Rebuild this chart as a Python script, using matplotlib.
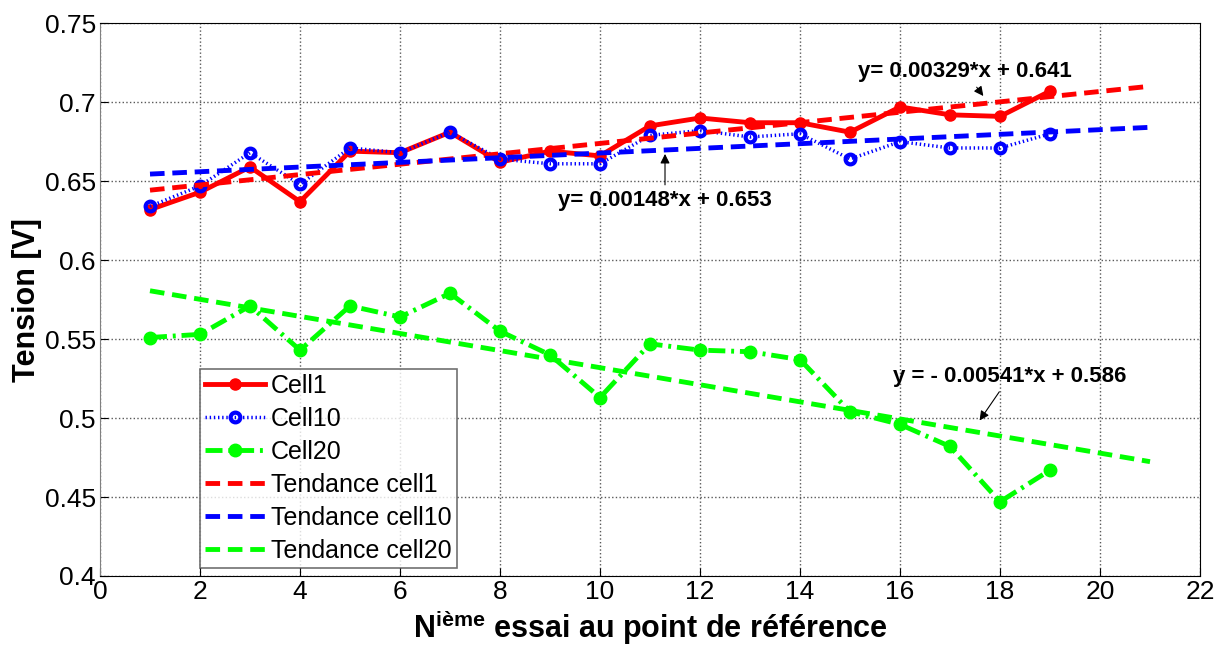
import matplotlib
matplotlib.use("Agg")
import matplotlib.pyplot as plt
import numpy as np

plt.rcParams['font.family'] = ['Liberation Sans', 'DejaVu Sans']

# Data
essai = list(range(1, 20))
cell1 = [0.632, 0.643, 0.659, 0.637, 0.669, 0.668, 0.681, 0.662, 0.669, 0.666,
         0.685, 0.690, 0.687, 0.687, 0.681, 0.697, 0.692, 0.691, 0.707]
cell10 = [0.634, 0.647, 0.668, 0.648, 0.671, 0.668, 0.681, 0.664, 0.661, 0.661,
          0.679, 0.682, 0.678, 0.680, 0.664, 0.675, 0.671, 0.671, 0.680]
cell20 = [0.551, 0.553, 0.571, 0.543, 0.571, 0.564, 0.579, 0.555, 0.540, 0.513,
          0.547, 0.543, 0.542, 0.537, 0.504, 0.496, 0.482, 0.447, 0.467]

# Linear trends (slope, intercept) as printed on the chart
trend_x = [1, 21]
trend1 = (0.00329, 0.641)
trend10 = (0.00148, 0.653)
trend20 = (-0.00541, 0.586)

labels = ['Cell1', 'Cell10', 'Cell20',
          'Tendance cell1', 'Tendance cell10', 'Tendance cell20']

fig = plt.figure(figsize=(12.24, 6.45), dpi=100)
ax = fig.add_axes([0.0817, 0.107, 0.8987, 0.857])

ax.plot(essai, cell1, '-o', color='red', lw=3.5, ms=8, label=labels[0])
ax.plot(essai, cell10, ':o', color='blue', lw=2.5, ms=7, mfc='none', mec='blue', mew=3,
        dashes=(0.4, 0.8), label=labels[1])
ax.plot(essai, cell20, '-.o', color='#00ff00', lw=3.5, ms=9, dashes=(3.5, 1.2, 0.6, 1.2),
        label=labels[2])

tx = np.array(trend_x)
ax.plot(tx, trend1[0] * tx + trend1[1], '--', color='red', lw=3.5, dashes=(3, 1.6),
        label=labels[3])
ax.plot(tx, trend10[0] * tx + trend10[1], '--', color='blue', lw=3.5, dashes=(3, 1.6),
        label=labels[4])
ax.plot(tx, trend20[0] * tx + trend20[1], '--', color='#00ff00', lw=3.5, dashes=(3, 1.6),
        label=labels[5])

ax.set_xlim(0, 22)
ax.set_ylim(0.4, 0.75)
ax.set_xticks(range(0, 23, 2))
ax.set_yticks(np.arange(0.4, 0.751, 0.05))
ax.set_yticklabels(['0.4', '0.45', '0.5', '0.55', '0.6', '0.65', '0.7', '0.75'])
ax.tick_params(direction='in', labelsize=19, length=6, pad=3)
ax.grid(True, linestyle=':', color='0.35', lw=1)
ax.spines['left'].set_color('0.5')

ax.set_ylabel('Tension [V]', fontsize=22, fontweight='bold', labelpad=2)
ax.set_xlabel(r'N$^{\mathregular{ième}}$ essai au point de référence', fontsize=22,
              fontweight='bold', labelpad=3)

arrow = dict(arrowstyle='-|>', color='black', lw=0.8, mutation_scale=14)
ax.annotate('y= 0.00329*x + 0.641', xy=(17.7, 0.7025), xytext=(17.3, 0.7193),
            fontsize=16, fontweight='bold', ha='center', va='center', arrowprops=arrow)
ax.annotate('y= 0.00148*x + 0.653', xy=(11.3, 0.669), xytext=(11.3, 0.6375),
            fontsize=16, fontweight='bold', ha='center', va='center', arrowprops=arrow)
ax.annotate('y = - 0.00541*x + 0.586', xy=(17.56, 0.497), xytext=(18.2, 0.5265),
            fontsize=16, fontweight='bold', ha='center', va='center', arrowprops=arrow)

leg = ax.legend(loc='lower left', bbox_to_anchor=(0.0909, 0.015), fontsize=18,
                frameon=True, fancybox=False, handlelength=2.4, handletextpad=0.25,
                labelspacing=0.36, borderaxespad=0, borderpad=0.2)
leg.get_frame().set_edgecolor('0.3')
leg.get_frame().set_linewidth(1.2)

fig.savefig('out.png', dpi=100)
